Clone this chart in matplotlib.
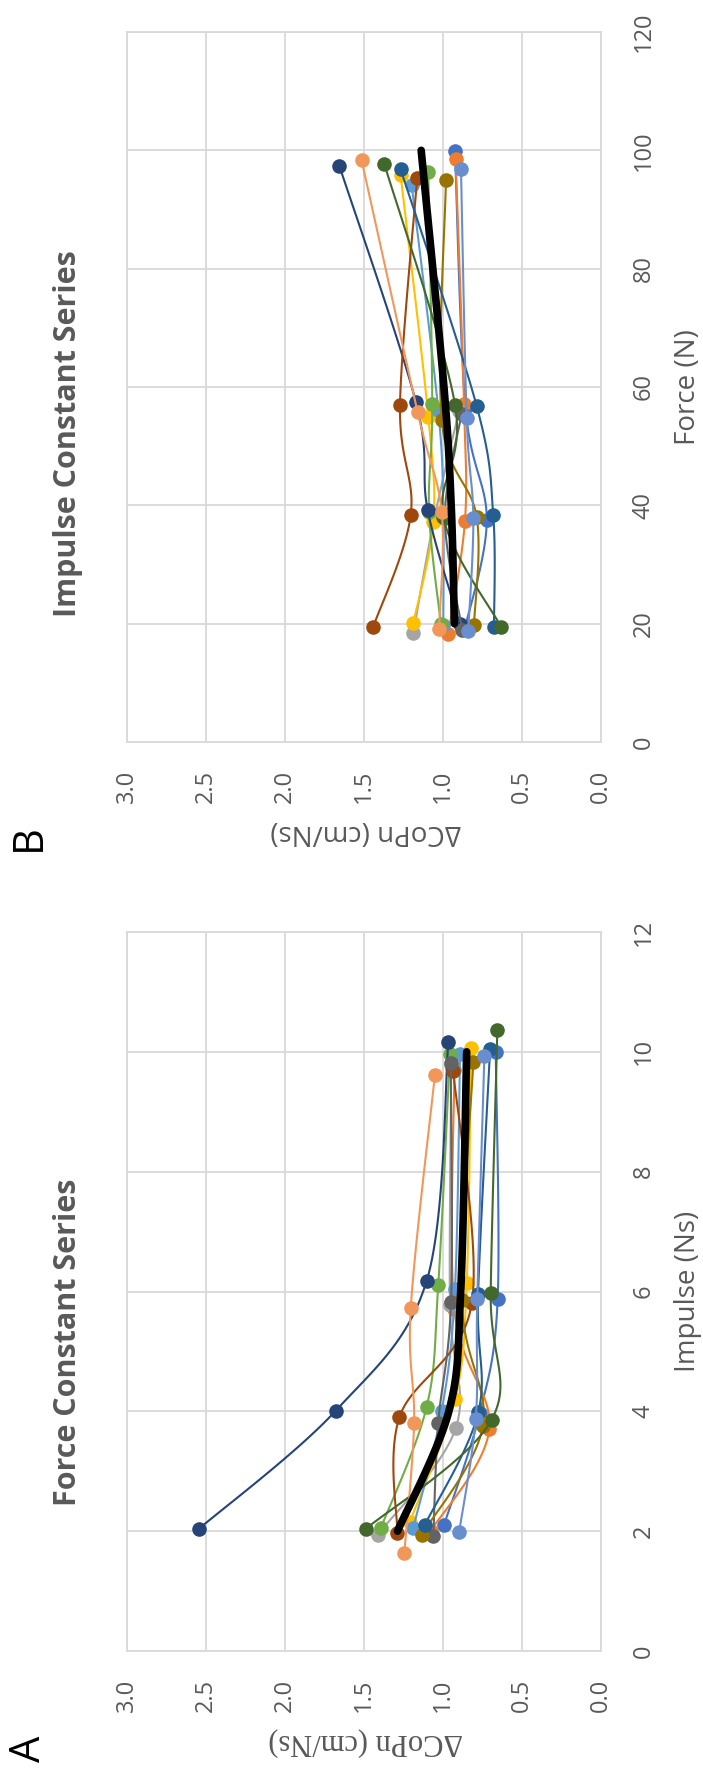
import numpy as np
import matplotlib
matplotlib.use("Agg")
import matplotlib.pyplot as plt

# ----------------------------------------------------
# DATI
# ----------------------------------------------------

colors = ["#4472C4", "#ED7D31", "#A5A5A5", "#FFC000", "#5B9BD5", "#70AD47", "#264478",
          "#9E480E", "#636363", "#997300", "#255E91", "#43682B", "#698ED0", "#F1975A"]

# Panel A - Force Constant Series: impulse (Ns) and dCoPn (cm/Ns) per subject
imp_a = [
    [2.10, 3.98, 5.87, 10.00],
    [2.00, 3.70, 5.70, 9.70],
    [1.94, 3.73, 5.77, 9.78],
    [2.16, 4.20, 6.14, 10.06],
    [2.06, 4.01, 6.05, 9.97],
    [2.06, 4.08, 6.11, 9.96],
    [2.04, 4.01, 6.18, 10.16],
    [1.97, 3.90, 5.80, 9.68],
    [1.92, 3.80, 5.83, 9.82],
    [1.94, 3.75, 5.86, 9.83],
    [2.11, 3.99, 5.95, 10.04],
    [2.04, 3.86, 5.98, 10.36],
    [1.98, 3.88, 5.87, 9.93],
    [1.63, 3.80, 5.72, 9.62],
]
cop_a = [
    [0.996, 0.768, 0.656, 0.668],
    [1.080, 0.709, 0.930, 0.930],
    [1.415, 0.920, 0.958, 0.950],
    [1.211, 0.926, 0.852, 0.825],
    [1.190, 1.010, 0.926, 0.894],
    [1.394, 1.105, 1.032, 0.958],
    [2.546, 1.681, 1.105, 0.968],
    [1.291, 1.278, 0.820, 0.937],
    [1.063, 1.032, 0.951, 0.953],
    [1.137, 0.750, 0.884, 0.810],
    [1.116, 0.778, 0.780, 0.704],
    [1.489, 0.694, 0.700, 0.658],
    [0.900, 0.795, 0.785, 0.740],
    [1.247, 1.185, 1.206, 1.053],
]
mean_imp_a = [2.0, 4.0, 6.0, 10.0]
mean_cop_a = [1.29, 0.965, 0.89, 0.852]

# Panel B - Impulse Constant Series: force (N) and dCoPn (cm/Ns)
force_b = [
    [19.5, 37.6, 56.5, 99.9],
    [18.3, 37.4, 57.2, 98.6],
    [18.4, 37.4, 56.0],
    [20.1, 37.1, 55.0, 95.8],
    [19.7, 38.5, 56.1, 94.1],
    [19.9, 38.8, 57.1, 96.3],
    [19.9, 39.2, 57.4, 97.4],
    [19.5, 38.4, 57.0, 95.4],
    [19.0, 37.9, 55.5],
    [19.7, 38.1, 54.4, 95.0],
    [19.5, 38.4, 56.8, 96.8],
    [19.5, 38.0, 57.0, 97.7],
    [18.8, 37.8, 54.7, 96.8],
    [19.1, 38.8, 55.7, 98.3],
]
cop_b = [
    [0.860, 0.725, 0.860, 0.926],
    [0.968, 0.863, 0.869, 0.922],
    [1.190, 1.060, 0.900],
    [1.190, 1.064, 1.095, 1.270],
    [1.000, 1.000, 1.032, 1.200],
    [1.015, 1.090, 1.070, 1.095],
    [0.894, 1.099, 1.173, 1.658],
    [1.443, 1.206, 1.274, 1.165],
    [0.880, 0.990, 0.884],
    [0.806, 0.789, 1.010, 0.983],
    [0.679, 0.684, 0.789, 1.270],
    [0.635, 1.000, 0.926, 1.373],
    [0.842, 0.810, 0.852, 0.888],
    [1.027, 1.010, 1.162, 1.517],
]
mean_force_b = [20.0, 40.0, 60.0, 100.0]
mean_cop_b = [0.93, 0.95, 0.996, 1.14]

W, H = 703, 1775
TXT = "#595959"
GRID = "#D9D9D9"
SANS = "Open Sans"


def fpos(x, y):
    # pixel -> figure fraction
    return x / W, 1 - y / H


# ----------------------------------------------------
# linea smussata stile Excel (bezier)
# ----------------------------------------------------

def smooth(xs, ys, sx, sy, n=30):
    p = np.column_stack([np.asarray(xs) * sx, np.asarray(ys) * sy])
    if len(p) < 3:
        return xs, ys
    ext = np.vstack([p[0], p, p[-1]])
    out = []
    t = np.linspace(0, 1, n)[:, None]
    for i in range(len(p) - 1):
        p0, p1, p2, p3 = ext[i], ext[i + 1], ext[i + 2], ext[i + 3]
        c1 = p1 + (p2 - p0) / 6
        c2 = p2 - (p3 - p1) / 6
        seg = ((1 - t) ** 3) * p1 + 3 * ((1 - t) ** 2) * t * c1 + 3 * (1 - t) * t ** 2 * c2 + t ** 3 * p2
        out.append(seg)
    out = np.vstack(out)
    return out[:, 0] / sx, out[:, 1] / sy


def panel(fig, top, bottom, ys_list, cop_list, mean_y, mean_cop, ymax, ystep,
          title, title_y, ylab, cop_lab, letter):
    l, r = 127.3, 601.3
    ax = fig.add_axes([l / W, 1 - bottom / H, (r - l) / W, (bottom - top) / H])
    sx = (r - l) / 3.0
    sy = (bottom - top) / ymax

    for c, ys, cops in zip(colors, ys_list, cop_list):
        cx, cy = smooth(cops, ys, sx, sy)
        ax.plot(cx, cy, color=c, lw=1.5, zorder=3)
        ax.plot(cops, ys, "o", color=c, ms=10.5, mew=0, zorder=3)

    mx, my = smooth(mean_cop, mean_y, sx, sy)
    ax.plot(mx, my, color="black", lw=5.5, solid_capstyle="round", zorder=5)

    ax.set_xlim(3, 0)
    ax.set_ylim(0, ymax)
    xt = np.arange(0, 3.01, 0.5)
    ax.set_xticks(xt)
    ax.set_xticklabels([f"{v:.1f}" for v in xt], rotation=90, fontsize=17,
                       color=TXT, family=SANS)
    yt = np.arange(0, ymax + 0.1, ystep)
    ax.set_yticks(yt)
    ax.set_yticklabels([f"{v:g}" for v in yt], rotation=90, fontsize=17,
                       color=TXT, family=SANS, va="center")
    ax.yaxis.tick_right()
    ax.tick_params(axis="x", length=0, pad=20)
    ax.tick_params(axis="y", length=0, pad=22)
    ax.grid(True, color=GRID, lw=1.3)
    ax.set_axisbelow(True)
    for s in ax.spines.values():
        s.set_color(GRID)
        s.set_linewidth(1.3)

    # testi ruotati (il grafico originale e' girato di 90 gradi)
    fig.text(*fpos(68, title_y), title, rotation=90, ha="center", va="center",
             fontsize=22, fontweight="bold", color=TXT, family=SANS)
    fig.text(*fpos(688, (top + bottom) / 2), ylab, rotation=90, ha="center", va="center",
             fontsize=20, color=TXT, family=SANS)
    fig.text(*fpos(366, cop_lab[1]), "ΔCoPn (cm/Ns)", rotation=180, ha="center",
             va="center", fontsize=cop_lab[2], color=TXT, family=cop_lab[0])
    fig.text(*fpos(29, letter[1]), letter[0], rotation=90, ha="center", va="center",
             fontsize=30, color="black", family=SANS)
    return ax


fig = plt.figure(figsize=(W / 100, H / 100), dpi=100)

panel(fig, 32, 742, force_b, cop_b, mean_force_b, mean_cop_b, 120, 20,
      "Impulse Constant Series", 434, "Force (N)",
      ("Open Sans", 832, 20), ("B", 838))
panel(fig, 932, 1651, imp_a, cop_a, mean_imp_a, mean_cop_a, 12, 2,
      "Force Constant Series", 1342, "Impulse (Ns)",
      ("Liberation Serif", 1742, 22), ("A", 1749))

fig.savefig("out.png", dpi=100)
